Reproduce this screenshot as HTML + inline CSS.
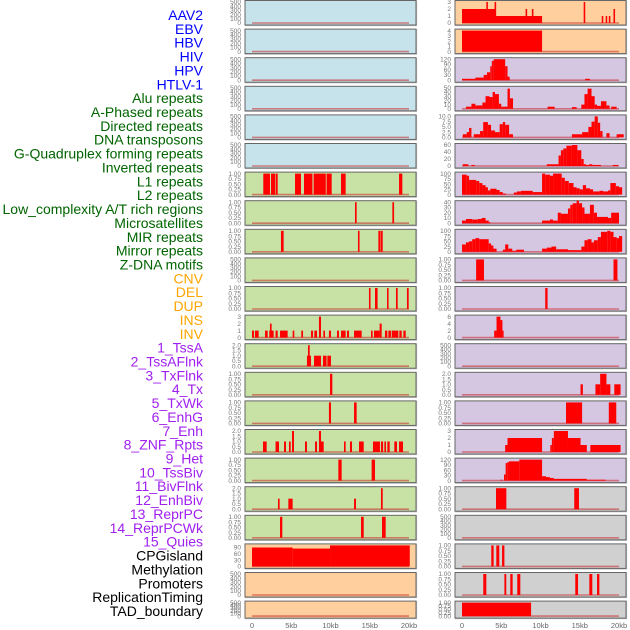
<!DOCTYPE html>
<html><head><meta charset="utf-8"><style>
body{margin:0;background:#fff;width:630px;height:630px;overflow:hidden}
svg{display:block}
.lab{font-family:"Liberation Sans",sans-serif;font-size:14px}
.tk{font-family:"Liberation Sans",sans-serif;font-size:6.5px;fill:#777}
.xt{font-family:"Liberation Sans",sans-serif;font-size:7.5px;fill:#666}
</style></head><body>
<svg id="chart" width="630" height="630"></svg>
<script>
const trackLabels=["AAV2","EBV","HBV","HIV","HPV","HTLV-1","Alu repeats","A-Phased repeats","Directed repeats","DNA transposons","G-Quadruplex forming repeats","Inverted repeats","L1 repeats","L2 repeats","Low_complexity A/T rich regions","Microsatellites","MIR repeats","Mirror repeats","Z-DNA motifs","CNV","DEL","DUP","INS","INV","1_TssA","2_TssAFlnk","3_TxFlnk","4_Tx","5_TxWk","6_EnhG","7_Enh","8_ZNF_Rpts","9_Het","10_TssBiv","11_BivFlnk","12_EnhBiv","13_ReprPC","14_ReprPCWk","15_Quies","CPGisland","Methylation","Promoters","ReplicationTiming","TAD_boundary"];
const labelColors=["#0000ff","#0000ff","#0000ff","#0000ff","#0000ff","#0000ff","#006400","#006400","#006400","#006400","#006400","#006400","#006400","#006400","#006400","#006400","#006400","#006400","#006400","#ffa500","#ffa500","#ffa500","#ffa500","#ffa500","#a020f0","#a020f0","#a020f0","#a020f0","#a020f0","#a020f0","#a020f0","#a020f0","#a020f0","#a020f0","#a020f0","#a020f0","#a020f0","#a020f0","#a020f0","#000","#000","#000","#000","#000"];
const xTicks=[0,5,10,15,20];
const xTickLabels=["0","5kb","10kb","15kb","20kb"];
const ticks500=[0,100,200,300,400,500];
const ticks1=["0.00","0.25","0.50","0.75","1.00"];
const ticks2=["0.0","0.5","1.0","1.5","2.0"];
const ticks3=[0,1,2,3];
const ticks4=[0,1,2,3,4];
const ticks6=[0,2,4,6];
const ticks120=[0,30,60,90,120];
const ticks50=[0,10,20,30,40,50];
const ticks10=["0.0","2.5","5.0","7.5","10.0"];
const ticks60=[0,20,40,60];
const ticks100=[0,25,50,75,100];
const ticks40=[0,10,20,30,40];
const ticksCpg=[0,30,60,90];

// left column data [startKb,endKb,value]
const l1Left=[[1.44,2.29,1],[2.42,2.93,1],[3.0,3.27,1],[5.48,6.24,1],[6.62,7.39,1],[7.39,7.7,1],[7.85,9.4,1],[9.5,10.15,1],[11.34,11.93,1],[18.73,19.15,1]];
const lowLeft=[[13.12,13.33,1],[17.88,18.1,1]];
const mirLeft=[[3.69,4.03,1],[13.5,13.7,1],[16.1,16.35,1],[16.4,16.65,1]];
const delLeft=[[14.9,15.1,1],[15.67,16.0,1],[17.2,17.4,1],[18.34,18.56,1],[19.74,19.96,1]];
const insLeft=[[0,0.25,1],[0.38,0.85,1],[1.66,2.0,1],[2.2,2.76,1],[2.29,2.5,2],[3.0,3.27,1],[3.57,4.54,1],[5.18,5.39,1],[6.28,6.5,1],[7.52,7.77,1],[7.94,8.28,1],[8.53,8.79,3],[9.09,9.3,1],[9.8,10.06,1],[10.83,11.08,1],[11.34,11.93,1],[12.1,12.36,1],[13.0,13.97,1],[15.16,15.37,1],[15.54,16.26,1],[16.26,16.52,2],[16.94,17.24,1],[17.37,17.7,1],[17.8,18.64,1],[18.77,19.07,1],[19.28,19.58,1]];
const tssaLeft=[[7.0,7.52,1],[7.13,7.35,2],[7.9,8.79,1],[9.04,9.5,1],[9.6,10.06,1]];
const txflnkLeft=[[9.94,10.23,1]];
const txwkLeft=[[9.8,10.06,1],[13.0,13.33,1]];
const enhLeft=[[1.4,1.87,1],[3.0,3.44,1],[4.08,4.33,1],[4.71,4.93,1],[5.1,5.35,2],[6.75,7.0,1],[8.03,8.28,1],[8.53,8.79,2],[8.79,9.13,1],[11.72,11.93,1],[12.48,12.74,1],[13.63,14.23,1],[15.41,15.67,1],[15.67,16.3,1],[16.43,16.7,1],[16.86,17.07,1],[17.24,17.54,1],[18.13,18.47,1],[18.73,19.24,1]];
const hetLeft=[[11.0,11.42,1],[15.24,15.67,1]];
const bivLeft=[[3.31,3.52,1],[4.63,5.18,1],[13.0,13.25,1],[16.43,16.65,2]];
const reprLeft=[[3.57,3.86,1],[13.89,14.23,1],[16.56,17.03,1]];
const cpgLeft=[[0,5.18,90],[5.18,9.94,85],[9.94,20.1,100]];

// right column data
const aavRight=[[0,4.25,2],[3.1,3.3,3],[4.15,4.35,3],[4.25,10.2,1],[8.1,8.3,2],[8.9,9.1,2],[15.5,15.7,3],[17.8,18.0,1],[18.3,18.5,1],[18.7,18.9,1],[19.3,19.5,2]];
const ebvRight=[[0,10.2,4]];
const hivRight=[[0,1.7,8],[1.7,2.76,15],[2.76,3.18,30],[3.18,3.6,45],[3.6,3.8,80],[3.8,4.03,110],[4.03,5.5,120],[5.5,5.8,80],[5.8,6.07,20],[15.7,16.3,8]];
const aluRight=[[0.5,1.2,5],[1.2,1.7,12],[1.7,2.6,8],[2.6,3.0,15],[3.0,3.5,30],[3.5,3.9,28],[3.9,4.2,40],[4.2,4.7,35],[4.7,5.0,12],[5.0,5.8,5],[5.8,6.1,48],[6.1,6.5,25],[10.9,11.8,5],[14.0,14.6,4],[15.2,15.6,10],[15.6,16.0,35],[16.0,16.5,48],[16.5,16.9,30],[16.9,17.2,10],[17.2,17.7,7],[17.7,18.4,18],[18.4,18.8,8],[19.0,19.7,5]];
const dirRight=[[0.1,0.6,1.5],[0.6,0.9,2.5],[0.9,1.2,4.5],[1.5,2.3,1.5],[2.3,2.7,3],[2.7,3.3,7.3],[3.3,3.7,6],[3.7,4.2,3.3],[4.2,4.8,2.5],[4.8,5.2,6.3],[5.2,5.5,7.3],[5.5,6.0,6],[6.0,6.5,1.5],[14.0,15.3,1.5],[15.3,16.1,2.5],[16.1,16.5,5],[16.5,16.9,7.5],[16.9,17.3,10],[17.3,17.6,7],[17.6,17.9,3],[18.4,18.8,2],[19.7,20.6,1.5]];
const gquadRight=[[0.1,0.8,5],[1.2,1.6,3],[10.8,12.3,5],[12.3,12.6,30],[12.6,12.9,45],[12.9,13.3,50],[13.3,14.0,58],[14.0,14.7,60],[14.7,15.2,45],[15.2,15.5,20],[15.5,15.8,5],[15.8,16.2,3],[16.2,16.6,5],[16.6,17.7,3],[19.2,19.9,3]];
const l1Right=[[0,0.6,95],[0.6,0.9,90],[0.9,1.8,70],[1.8,2.2,65],[2.2,2.6,55],[2.6,3.0,45],[3.0,3.3,35],[3.3,3.6,20],[3.6,4.4,28],[4.4,4.8,22],[4.8,5.2,12],[5.2,5.6,5],[6.6,7.0,10],[7.0,7.5,15],[7.5,9.0,18],[9.0,10.2,12],[10.2,10.6,100],[10.6,11.2,95],[11.2,11.6,90],[11.6,12.7,100],[12.7,13.1,80],[13.1,13.6,65],[13.6,14.2,55],[14.2,14.6,35],[14.6,15.0,30],[15.0,15.4,25],[15.4,15.8,45],[15.8,16.3,30],[16.3,16.7,25],[16.7,17.5,15],[17.5,18.0,18],[18.0,18.6,15],[18.6,18.9,20],[18.9,19.6,55],[19.6,20.0,40],[20.0,20.4,35]];
const lowRight=[[0,0.5,5],[0.5,1.3,8],[1.3,2.0,7],[2.0,2.5,8],[2.5,3.0,10],[3.0,3.4,5],[3.4,3.6,2],[10.2,11.2,5],[11.2,11.6,7],[11.6,12.2,5],[12.2,12.6,20],[12.6,13.5,18],[13.5,13.8,28],[13.8,14.1,35],[14.1,14.6,38],[14.6,14.9,43],[14.9,15.3,38],[15.3,15.6,30],[15.6,16.3,18],[16.3,16.8,35],[16.8,17.2,20],[17.2,18.6,12],[18.6,19.0,10],[19.0,20.0,20]];
const mirRight=[[0,0.5,35],[0.5,0.9,45],[0.9,1.3,50],[1.3,1.7,60],[1.7,2.2,65],[2.2,3.4,60],[3.4,3.7,40],[3.7,4.0,30],[4.0,4.4,15],[5.2,5.5,10],[5.5,5.9,35],[5.9,6.4,15],[6.4,6.9,5],[6.9,7.9,10],[10.2,10.8,15],[10.8,11.4,20],[11.4,12.0,25],[12.0,13.5,12],[13.5,15.2,8],[15.2,15.6,25],[15.6,16.0,55],[16.0,16.5,60],[16.5,16.8,45],[16.8,17.3,55],[17.3,17.7,70],[17.7,18.5,95],[18.5,18.9,100],[18.9,19.3,95],[19.3,19.7,70],[19.7,20.0,65],[20.0,20.4,75]];
const zdnaRight=[[1.8,2.8,1],[19.3,19.8,1]];
const delRight=[[10.6,10.9,1]];
const insRight=[[4.1,4.4,2],[4.4,4.9,6],[4.9,5.15,5],[5.15,5.3,2]];
const txflnkRight=[[15.1,15.4,1],[17.0,17.6,1],[17.6,18.4,2],[18.4,18.9,1],[19.4,20.2,1]];
const txwkRight=[[13.25,15.3,1],[18.7,19.65,1]];
const enhRight=[[5.5,5.8,1],[5.8,10.2,2],[11.25,11.45,1],[11.45,11.7,2],[11.7,13.5,3],[13.5,15.1,2],[15.1,15.9,1],[16.35,20.2,1]];
const hetRight=[[4.93,5.14,5],[5.35,5.56,35],[5.56,5.77,100],[5.77,5.99,105],[5.99,7.3,110],[7.3,10.2,120],[10.2,10.7,25],[10.7,11.2,20],[11.2,11.7,15],[11.7,15.9,10],[15.9,18.3,5]];
const bivRight=[[4.33,5.65,1],[14.3,14.9,1]];
const cpgRight=[[3.73,4.03,1],[4.37,4.75,1],[5.1,5.4,1]];
const promRight=[[2.71,3.1,1],[5.4,5.64,1],[6.15,6.45,1],[7.04,7.43,1],[14.43,14.78,1],[16.22,16.6,1],[17.2,17.5,1]];
const tadRight=[[0,8.8,1]];

const BLUE="#c6e2ea",GREEN="#c8e1a5",PEACH="#ffd09e",LAV="#d5c6e2",GRAY="#d0d0d0";
// per-row: [leftBg,leftData,leftMax,leftTicks, rightBg,rightData,rightMax,rightTicks]
const rows=[
[BLUE,[],500,ticks500,PEACH,aavRight,3,ticks3],
[BLUE,[],500,ticks500,PEACH,ebvRight,4,ticks4],
[BLUE,[],500,ticks500,LAV,hivRight,120,ticks120],
[BLUE,[],500,ticks500,LAV,aluRight,50,ticks50],
[BLUE,[],500,ticks500,LAV,dirRight,10,ticks10],
[BLUE,[],500,ticks500,LAV,gquadRight,60,ticks60],
[GREEN,l1Left,1,ticks1,LAV,l1Right,100,ticks100],
[GREEN,lowLeft,1,ticks1,LAV,lowRight,40,ticks40],
[GREEN,mirLeft,1,ticks1,LAV,mirRight,100,ticks100],
[GREEN,[],500,ticks500,LAV,zdnaRight,1,ticks1],
[GREEN,delLeft,1,ticks1,LAV,delRight,1,ticks1],
[GREEN,insLeft,3,ticks3,LAV,insRight,6,ticks6],
[GREEN,tssaLeft,2,ticks2,LAV,[],500,ticks500],
[GREEN,txflnkLeft,1,ticks1,LAV,txflnkRight,2,ticks2],
[GREEN,txwkLeft,1,ticks1,LAV,txwkRight,1,ticks1],
[GREEN,enhLeft,2,ticks2,LAV,enhRight,3,ticks3],
[GREEN,hetLeft,1,ticks1,LAV,hetRight,120,ticks120],
[GREEN,bivLeft,2,ticks2,GRAY,bivRight,1,ticks1],
[GREEN,reprLeft,1,ticks1,GRAY,[],500,ticks500],
[PEACH,cpgLeft,100,ticksCpg,GRAY,cpgRight,1,ticks1],
[PEACH,[],500,ticks500,GRAY,promRight,1,ticks1],
[PEACH,[],500,ticks500,GRAY,tadRight,1,ticks1]
];

const NS="http://www.w3.org/2000/svg";
const svg=document.getElementById('chart');
function mk(t,a,p){const e=document.createElementNS(NS,t);for(const k in a)e.setAttribute(k,a[k]);(p||svg).appendChild(e);return e;}
const cols=[{x0:245,x1:416,z:252,tx:241},{x0:455,x1:626,z:462,tx:451}];
const KB=7.85;
function xs(c,kb){return cols[c].z+kb*KB;}

trackLabels.forEach((t,i)=>{
  const e=mk('text',{x:203,y:15+i*13.86+5,'text-anchor':'end',class:'lab',fill:labelColors[i]});
  e.textContent=t;
  
  
});

rows.forEach((r,i)=>{
  const top=0.5+i*28.6, h=(i===21?17:24.5);
  [0,1].forEach(c=>{
    const bg=r[c*4],data=r[c*4+1],max=r[c*4+2],tk=r[c*4+3];
    const g=mk('g',{});
    
    
    const col=cols[c];
    mk('rect',{x:col.x0+0.5,y:top+0.5,width:col.x1-col.x0,height:h,fill:'none',stroke:'#bbb','stroke-width':1.2},g);
    mk('rect',{x:col.x0,y:top,width:col.x1-col.x0,height:h,fill:bg,stroke:'#666','stroke-width':1},g);
    const ys=v=>top+1.5+(1-v/max)*(h-3.5);
    mk('line',{x1:xs(c,0),x2:xs(c,20),y1:ys(0),y2:ys(0),stroke:'rgba(200,40,40,0.55)','stroke-width':1.6},g);
    data.forEach(d=>{
      const b=mk('rect',{x:xs(c,d[0]),y:ys(d[2]),width:Math.max(0.8,(d[1]-d[0])*KB),height:ys(0)-ys(d[2]),fill:'#ff0000'},g);
      
      
    });
    tk.forEach(v=>{
      const t=mk('text',{x:col.tx,y:ys(parseFloat(v))+2.2,'text-anchor':'end',class:'tk'},g);
      t.textContent=v;
    });
  });
});

[0,1].forEach(c=>{
  xTicks.forEach((v,j)=>{
    const t=mk('text',{x:xs(c,v),y:628,'text-anchor':'middle',class:'xt'});
    t.textContent=xTickLabels[j];
    
    
  });
});
</script>
</body></html>
